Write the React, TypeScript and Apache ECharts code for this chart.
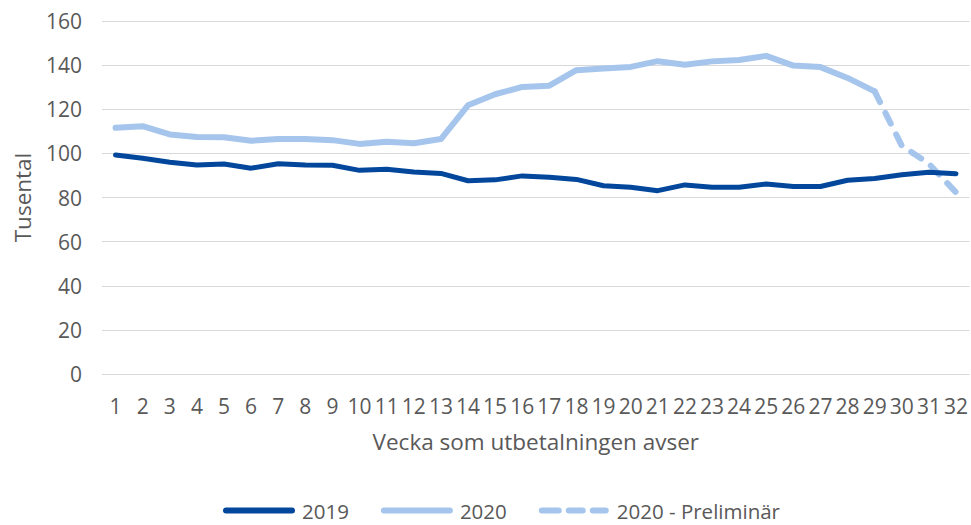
import React, { useEffect, useRef } from "react";
import * as echarts from "echarts";

const weeks = Array.from({ length: 32 }, (_, i) => String(i + 1));

const values2019 = [
  99.3, 97.8, 96, 94.7, 95.2, 93.3, 95.3, 94.7, 94.6, 92.3, 92.8, 91.6, 90.9,
  87.6, 88, 89.8, 89.2, 88.2, 85.3, 84.6, 83.1, 85.7, 84.6, 84.6, 86.1, 85,
  85, 87.8, 88.6, 90.3, 91.4, 90.8,
];

const values2020 = [
  111.6, 112.3, 108.6, 107.4, 107.3, 105.7, 106.5, 106.5, 106, 104.3, 105.3,
  104.6, 106.5, 121.8, 126.8, 130.1, 130.7, 137.7, 138.5, 139.2, 141.8, 140.2,
  141.7, 142.3, 144.2, 139.8, 139.1, 134.2, 128.1,
];

const valuesPrelim: (number | null)[] = [
  ...Array.from({ length: 28 }, () => null),
  128.1, 103.5, 95.3, 82.3,
];

const yTicks = { min: 0, max: 160, interval: 20 };

const textColor = "#595959";
const fontFamily = "'Open Sans', 'Noto Sans', sans-serif";

const solidIcon =
  "path://M3,0 L69,0 A3,3 0 0 1 69,6 L3,6 A3,3 0 0 1 3,0 Z";
const dashIcon =
  "path://M3,0 L20,0 A3,3 0 0 1 20,6 L3,6 A3,3 0 0 1 3,0 Z " +
  "M30,0 L44,0 A3,3 0 0 1 44,6 L30,6 A3,3 0 0 1 30,0 Z " +
  "M54,0 L67,0 A3,3 0 0 1 67,6 L54,6 A3,3 0 0 1 54,0 Z";

export default function App() {
  const ref = useRef<HTMLDivElement>(null);

  useEffect(() => {
    document.body.style.margin = "0";
    if (!ref.current) return;
    const chart = echarts.init(ref.current, undefined, { renderer: "svg" });
    chart.setOption({
      animation: false,
      backgroundColor: "#ffffff",
      textStyle: { fontFamily, color: textColor },
      grid: { left: 102, right: 1, top: 21, bottom: 151, containLabel: false },
      legend: {
        left: 218,
        top: 495,
        itemWidth: 72,
        itemHeight: 6,
        itemGap: 32,
        textStyle: {
          fontSize: 20.5,
          color: textColor,
          fontFamily,
          padding: [0, 0, 0, 2],
        },
        data: [
          { name: "2019", icon: solidIcon },
          { name: "2020", icon: solidIcon },
          { name: "2020 - Preliminär", icon: dashIcon },
        ],
      },
      xAxis: {
        type: "category",
        data: weeks,
        boundaryGap: true,
        axisLine: { show: false },
        axisTick: { show: false },
        axisLabel: {
          interval: 0,
          margin: 21,
          fontSize: 21,
          color: textColor,
          fontFamily,
        },
        name: "Vecka som utbetalningen avser",
        nameLocation: "middle",
        nameGap: 56,
        nameTextStyle: { fontSize: 22.5, color: textColor, fontFamily },
      },
      yAxis: {
        type: "value",
        min: yTicks.min,
        max: yTicks.max,
        interval: yTicks.interval,
        axisLine: { show: false },
        axisTick: { show: false },
        splitLine: { lineStyle: { color: "#d9d9d9", width: 1 } },
        axisLabel: { margin: 20, fontSize: 21, color: textColor, fontFamily },
        name: "Tusental",
        nameLocation: "middle",
        nameRotate: 90,
        nameGap: 68,
        nameTextStyle: { fontSize: 22.5, color: textColor, fontFamily },
      },
      series: [
        {
          name: "2019",
          type: "line",
          data: values2019,
          showSymbol: false,
          symbol: "none",
          lineStyle: { color: "#02479b", width: 5, cap: "round", join: "round" },
          itemStyle: { color: "#02479b" },
          z: 3,
        },
        {
          name: "2020",
          type: "line",
          data: values2020,
          showSymbol: false,
          symbol: "none",
          lineStyle: { color: "#a6c5ec", width: 6, cap: "round", join: "round" },
          itemStyle: { color: "#a6c5ec" },
          z: 2,
        },
        {
          name: "2020 - Preliminär",
          type: "line",
          data: valuesPrelim,
          showSymbol: false,
          symbol: "none",
          lineStyle: {
            color: "#a6c5ec",
            width: 6,
            type: [12, 12],
            cap: "round",
            join: "round",
          },
          itemStyle: { color: "#a6c5ec" },
          z: 2,
        },
      ],
    });
    return () => chart.dispose();
  }, []);

  return <div ref={ref} style={{ width: 971, height: 525 }} />;
}
